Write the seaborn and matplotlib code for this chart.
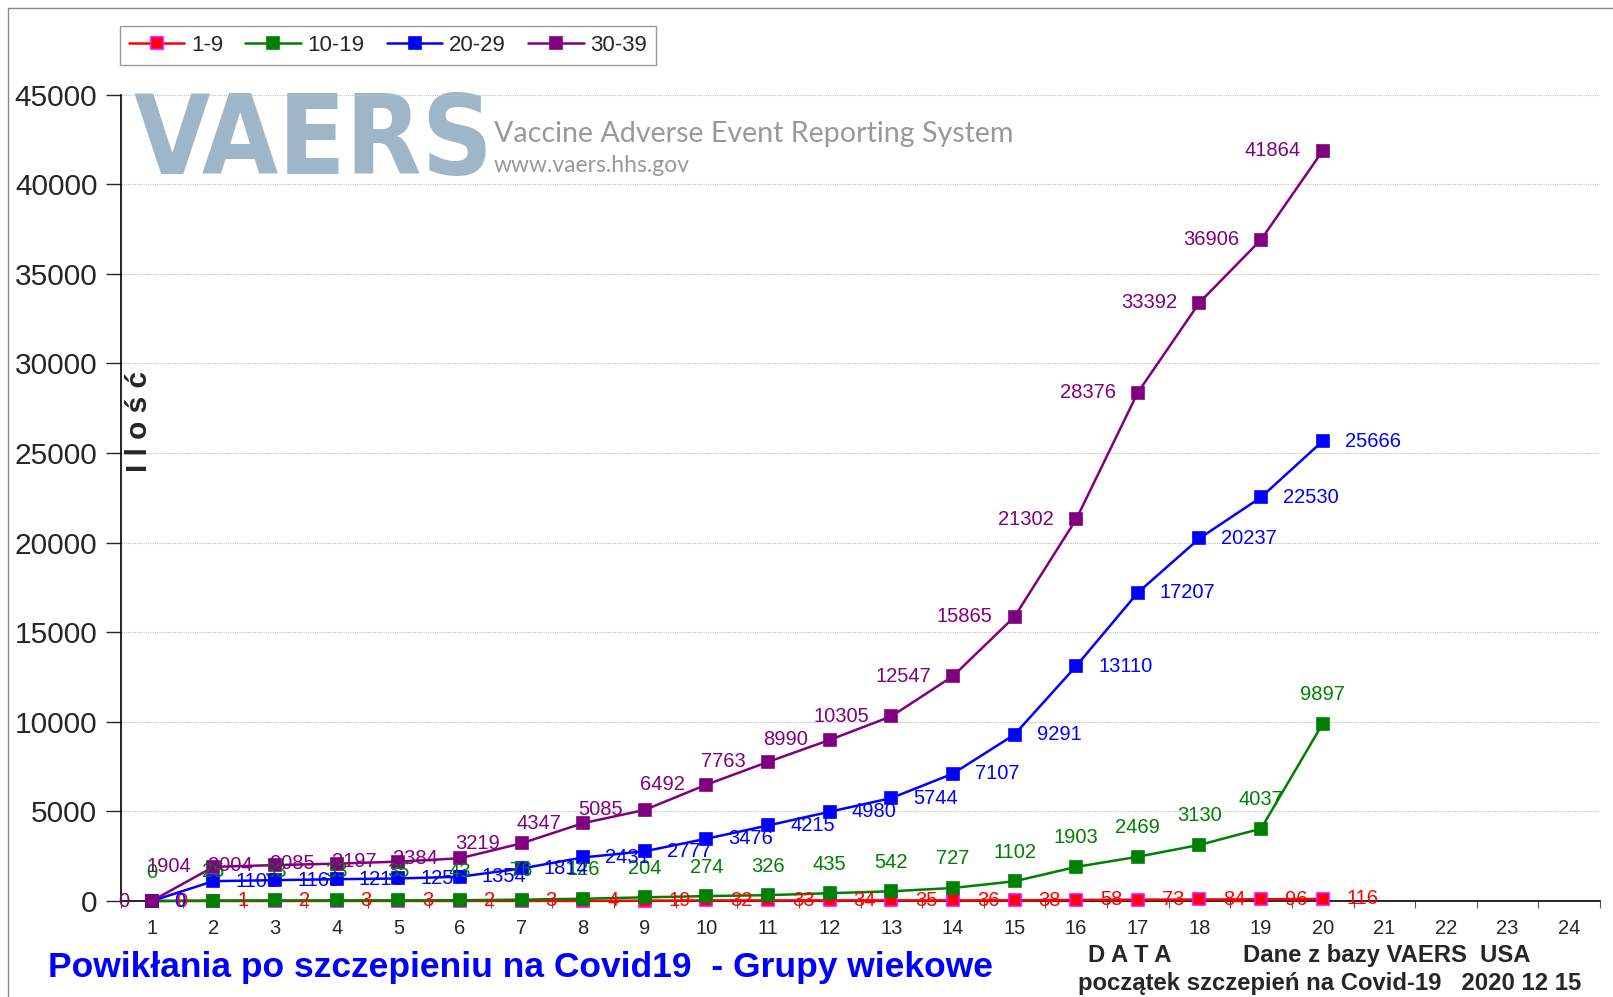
import numpy as np
import pandas as pd
import seaborn as sns
import matplotlib.pyplot as plt
from matplotlib.lines import Line2D

sns.set_style('white')
plt.rcParams['font.family'] = ['Liberation Sans', 'DejaVu Sans']

# dane z VAERS, kolejne dni od poczatku szczepien
days = list(range(1, 21))
grp_1_9 = [0, 1, 2, 3, 3, 2, 3, 4, 19, 32, 33, 34, 35, 36, 38, 58, 73, 84, 96, 116]
grp_10_19 = [0, 25, 33, 33, 35, 43, 76, 126, 204, 274, 326, 435, 542, 727, 1102, 1903, 2469, 3130, 4037, 9897]
grp_20_29 = [0, 1108, 1163, 1216, 1257, 1354, 1814, 2431, 2777, 3476, 4215, 4980, 5744, 7107, 9291, 13110, 17207, 20237, 22530, 25666]
grp_30_39 = [0, 1904, 2004, 2085, 2197, 2384, 3219, 4347, 5085, 6492, 7763, 8990, 10305, 12547, 15865, 21302, 28376, 33392, 36906, 41864]
group_names = ['1-9', '10-19', '20-29', '30-39']
x_ticks = list(range(1, 25))

df = pd.DataFrame({'dzien': days, '1-9': grp_1_9, '10-19': grp_10_19,
                   '20-29': grp_20_29, '30-39': grp_30_39})

W, H = 1613, 997
fig = plt.figure(figsize=(W / 100, H / 100), dpi=100)
ax = fig.add_axes([121 / W, 96 / H, (1600 - 121) / W, (901 - 94.6) / H])

styles = {
    '1-9':   dict(color='#FF0000', mfc='#FF0000', mec='#FF00FF', lab=dict(ha='left', off=(24, 0))),
    '10-19': dict(color='#008000', mfc='#008000', mec='#008000', lab=dict(ha='center', off=(0, 29))),
    '20-29': dict(color='#0000FF', mfc='#0000FF', mec='#0000FF', lab=dict(ha='left', off=(22, 0))),
    '30-39': dict(color='#800080', mfc='#800080', mec='#800080', lab=dict(ha='right', off=(-22, 0))),
}

for i, g in enumerate(group_names):
    st = styles[g]
    sns.lineplot(data=df, x='dzien', y=g, ax=ax, color=st['color'], marker='s',
                 markersize=9, markerfacecolor=st['mfc'], markeredgecolor=st['mec'],
                 markeredgewidth=1.2, linewidth=1.8, label=g, clip_on=False, zorder=3 + i)

for g in group_names:
    st = styles[g]
    for d, v in zip(df['dzien'], df[g]):
        ax.annotate(str(v), (d, v), xytext=st['lab']['off'], textcoords='offset pixels',
                    ha=st['lab']['ha'], va='center', fontsize=14.5, color=st['color'],
                    zorder=10, annotation_clip=False)

ax.set_xlim(0.5, 24.5)
ax.set_ylim(0, 45000)
ax.set_yticks(np.arange(0, 45001, 5000))
ax.set_xticks(x_ticks)
ax.set_xticks(np.arange(0.5, 25, 1), minor=True)
ax.tick_params(axis='y', which='major', labelsize=21.5, length=11, width=1, direction='out', left=True, pad=6)
ax.tick_params(axis='x', which='major', labelsize=14.5, length=0, pad=13)
ax.tick_params(axis='x', which='minor', length=5, width=0.8, direction='out', bottom=True, color='#555555')
ax.grid(axis='y', linestyle=(0, (1, 1)), color='#c0c0c0', linewidth=0.8)
ax.set_axisbelow(True)
for s in ['top', 'right']:
    ax.spines[s].set_visible(False)
for s in ['left', 'bottom']:
    ax.spines[s].set_color('black')
    ax.spines[s].set_linewidth(1.2)
ax.set_xlabel('')
ax.set_ylabel('')

# logo VAERS w tle
ax.text(134 / W, 1 - 174 / H, 'VAERS', transform=fig.transFigure, fontsize=79,
        fontweight='bold', family='DejaVu Sans', fontstretch='condensed',
        color='#9fb5c8', ha='left', va='baseline', zorder=0)
ax.text(494 / W, 1 - 142 / H, 'Vaccine Adverse Event Reporting System', transform=fig.transFigure,
        fontsize=20.6, family='Lato', color='#999999', ha='left', va='baseline', zorder=0)
ax.text(494 / W, 1 - 172 / H, 'www.vaers.hhs.gov', transform=fig.transFigure,
        fontsize=16.5, family='Lato', color='#999999', ha='left', va='baseline', zorder=0)

fig.text(139 / W, 1 - 422 / H, 'I l o ś ć', rotation=90, fontsize=21.5, fontweight='bold',
         ha='center', va='center')

handles, labels = ax.get_legend_handles_labels()
ax.get_legend().remove()
fig.legend(handles, labels, loc='upper left', bbox_to_anchor=(120 / W, 1 - 26 / H), ncol=4,
           frameon=True, fancybox=False, edgecolor='#808080', fontsize=16, handlelength=2.5,
           columnspacing=1.0, handletextpad=0.3, borderpad=0.4, borderaxespad=0)

fig.text(48 / W, 1 - 967 / H, 'Powikłania po szczepieniu na Covid19  - Grupy wiekowe',
         fontsize=25.5, fontweight='bold', color='#0000FF', ha='left', va='center')
fig.text(1088 / W, 1 - 955 / H, 'D A T A', fontsize=17.2, fontweight='bold', ha='left', va='center')
fig.text(1243 / W, 1 - 955 / H, 'Dane z bazy VAERS  USA', fontsize=17.2, fontweight='bold', ha='left', va='center')
fig.text(1078 / W, 1 - 983 / H, 'początek szczepień na Covid-19   2020 12 15', fontsize=17.2,
         fontweight='bold', ha='left', va='center')

fig.add_artist(Line2D([7.5 / W, 7.5 / W], [0, 1 - 8.5 / H], transform=fig.transFigure, color='#8a8a8a', lw=1))
fig.add_artist(Line2D([7.5 / W, 1], [1 - 8.5 / H, 1 - 8.5 / H], transform=fig.transFigure, color='#8a8a8a', lw=1))

fig.savefig('out.png', dpi=100)
